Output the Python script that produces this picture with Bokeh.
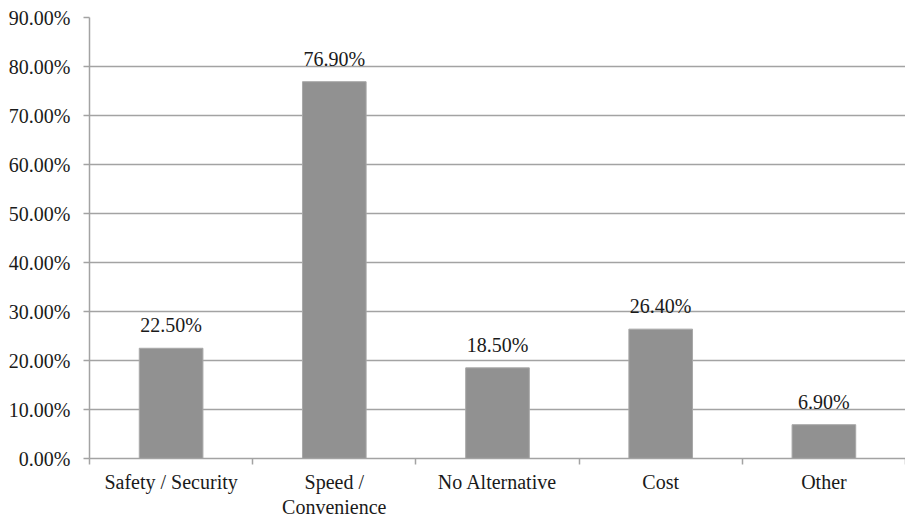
from bokeh.plotting import figure
from bokeh.models import FixedTicker, PrintfTickFormatter, ColumnDataSource, Range1d
from bokeh.embed import file_html
from bokeh.resources import INLINE
from bokeh.core.properties import value

categories = ["Safety / Security", "Speed /\nConvenience", "No Alternative", "Cost", "Other"]
values = [22.5, 76.9, 18.5, 26.4, 6.9]
y_ticks = [0, 10, 20, 30, 40, 50, 60, 70, 80, 90]

FONT = "Liberation Serif"
GRID = "#a3a3a3"
BAR = "#919191"
TXT = "#1a1a1a"
FS = "20px"

xs = [i + 0.5 for i in range(len(categories))]
labels = [f"{v:.2f}%" for v in values]
src = ColumnDataSource(dict(x=xs, top=values, label=labels))

p = figure(width=905, height=520, output_backend="svg", toolbar_location=None,
           x_range=Range1d(0, len(categories)), y_range=Range1d(0, 90),
           min_border_left=89, min_border_right=0, min_border_top=17, min_border_bottom=59)
p.outline_line_color = None
p.background_fill_color = "white"
p.border_fill_color = "white"

p.vbar(x="x", top="top", width=0.39, bottom=0, source=src,
       fill_color=BAR, line_color="#a8a8a8", line_width=1)
p.text(x="x", y="top", text="label", source=src, text_align="center",
       text_baseline="bottom", y_offset=-12, text_font=value(FONT),
       text_font_size=FS, text_color=TXT)

p.xgrid.grid_line_color = None
p.ygrid.ticker = FixedTicker(ticks=y_ticks)
p.ygrid.grid_line_color = GRID
p.ygrid.grid_line_width = 1.5

xa = p.xaxis[0]
xa.ticker = FixedTicker(ticks=xs, minor_ticks=list(range(len(categories) + 1)))
xa.major_label_overrides = {x: c for x, c in zip(xs, categories)}
xa.major_tick_out = 0
xa.major_tick_in = 0
xa.minor_tick_out = 6
xa.minor_tick_in = 0
xa.minor_tick_line_color = GRID
xa.minor_tick_line_width = 1.5
xa.axis_line_color = GRID
xa.axis_line_width = 1.5
xa.major_label_standoff = 6
xa.major_label_text_font = FONT
xa.major_label_text_font_size = FS
xa.major_label_text_color = TXT
xa.major_label_text_line_height = 1.15

ya = p.yaxis[0]
ya.ticker = FixedTicker(ticks=y_ticks)
ya.formatter = PrintfTickFormatter(format="%.2f%%")
ya.major_tick_out = 6
ya.major_tick_in = 0
ya.minor_tick_out = 0
ya.minor_tick_in = 0
ya.major_tick_line_color = GRID
ya.major_tick_line_width = 1.5
ya.axis_line_color = GRID
ya.axis_line_width = 1.5
ya.major_label_standoff = 13
ya.major_label_text_font = FONT
ya.major_label_text_font_size = FS
ya.major_label_text_color = TXT

open("out.html", "w").write(file_html(p, INLINE))
